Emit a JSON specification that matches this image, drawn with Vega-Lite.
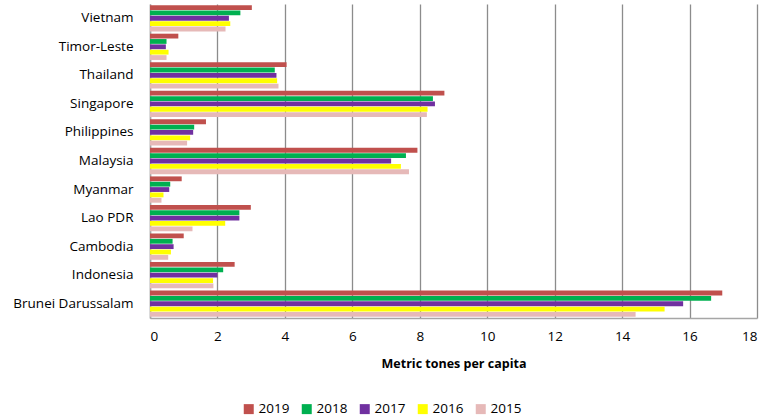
{
  "$schema": "https://vega.github.io/schema/vega-lite/v6.json",
  "autosize": "none",
  "padding": {"left": 150, "top": 4, "right": 6, "bottom": 102},
  "width": 607,
  "height": 314,
  "config": {
    "font": "Open Sans",
    "view": {"stroke": null},
    "axis": {"labelFont": "Open Sans", "titleFont": "Open Sans", "labelColor": "#000", "titleColor": "#000"}
  },
  "data": {
    "values": [
      {"country": "Vietnam", "year": "2019", "value": 3.02},
      {"country": "Vietnam", "year": "2018", "value": 2.68},
      {"country": "Vietnam", "year": "2017", "value": 2.34},
      {"country": "Vietnam", "year": "2016", "value": 2.38},
      {"country": "Vietnam", "year": "2015", "value": 2.24},
      {"country": "Timor-Leste", "year": "2019", "value": 0.84},
      {"country": "Timor-Leste", "year": "2018", "value": 0.49},
      {"country": "Timor-Leste", "year": "2017", "value": 0.47},
      {"country": "Timor-Leste", "year": "2016", "value": 0.55},
      {"country": "Timor-Leste", "year": "2015", "value": 0.49},
      {"country": "Thailand", "year": "2019", "value": 4.05},
      {"country": "Thailand", "year": "2018", "value": 3.70},
      {"country": "Thailand", "year": "2017", "value": 3.75},
      {"country": "Thailand", "year": "2016", "value": 3.77},
      {"country": "Thailand", "year": "2015", "value": 3.81},
      {"country": "Singapore", "year": "2019", "value": 8.73},
      {"country": "Singapore", "year": "2018", "value": 8.39},
      {"country": "Singapore", "year": "2017", "value": 8.45},
      {"country": "Singapore", "year": "2016", "value": 8.23},
      {"country": "Singapore", "year": "2015", "value": 8.21},
      {"country": "Philippines", "year": "2019", "value": 1.66},
      {"country": "Philippines", "year": "2018", "value": 1.31},
      {"country": "Philippines", "year": "2017", "value": 1.28},
      {"country": "Philippines", "year": "2016", "value": 1.19},
      {"country": "Philippines", "year": "2015", "value": 1.10},
      {"country": "Malaysia", "year": "2019", "value": 7.93},
      {"country": "Malaysia", "year": "2018", "value": 7.59},
      {"country": "Malaysia", "year": "2017", "value": 7.15},
      {"country": "Malaysia", "year": "2016", "value": 7.44},
      {"country": "Malaysia", "year": "2015", "value": 7.68},
      {"country": "Myanmar", "year": "2019", "value": 0.94},
      {"country": "Myanmar", "year": "2018", "value": 0.60},
      {"country": "Myanmar", "year": "2017", "value": 0.57},
      {"country": "Myanmar", "year": "2016", "value": 0.40},
      {"country": "Myanmar", "year": "2015", "value": 0.34},
      {"country": "Lao PDR", "year": "2019", "value": 2.99},
      {"country": "Lao PDR", "year": "2018", "value": 2.65},
      {"country": "Lao PDR", "year": "2017", "value": 2.65},
      {"country": "Lao PDR", "year": "2016", "value": 2.23},
      {"country": "Lao PDR", "year": "2015", "value": 1.26},
      {"country": "Cambodia", "year": "2019", "value": 1.00},
      {"country": "Cambodia", "year": "2018", "value": 0.67},
      {"country": "Cambodia", "year": "2017", "value": 0.70},
      {"country": "Cambodia", "year": "2016", "value": 0.62},
      {"country": "Cambodia", "year": "2015", "value": 0.54},
      {"country": "Indonesia", "year": "2019", "value": 2.51},
      {"country": "Indonesia", "year": "2018", "value": 2.17},
      {"country": "Indonesia", "year": "2017", "value": 2.00},
      {"country": "Indonesia", "year": "2016", "value": 1.87},
      {"country": "Indonesia", "year": "2015", "value": 1.88},
      {"country": "Brunei Darussalam", "year": "2019", "value": 16.97},
      {"country": "Brunei Darussalam", "year": "2018", "value": 16.64},
      {"country": "Brunei Darussalam", "year": "2017", "value": 15.81},
      {"country": "Brunei Darussalam", "year": "2016", "value": 15.26},
      {"country": "Brunei Darussalam", "year": "2015", "value": 14.40}
    ]
  },
  "mark": {"type": "bar"},
  "encoding": {
    "y": {
      "field": "country",
      "type": "nominal",
      "sort": ["Vietnam", "Timor-Leste", "Thailand", "Singapore", "Philippines", "Malaysia", "Myanmar", "Lao PDR", "Cambodia", "Indonesia", "Brunei Darussalam"],
      "scale": {"paddingInner": 0.08, "paddingOuter": 0.04},
      "axis": {"title": null, "ticks": false, "labelFontSize": 13.5, "labelPadding": 17, "domainColor": "#a6a6a6", "domainWidth": 1.5}
    },
    "yOffset": {
      "field": "year",
      "type": "nominal",
      "sort": ["2019", "2018", "2017", "2016", "2015"],
      "scale": {"paddingInner": 0.1}
    },
    "x": {
      "field": "value",
      "type": "quantitative",
      "scale": {"domain": [0, 18], "nice": false},
      "axis": {
        "title": "Metric tones per capita",
        "titleFontWeight": "bold",
        "titleFontSize": 12.5,
        "titlePadding": 15,
        "values": [0, 2, 4, 6, 8, 10, 12, 14, 16, 18],
        "labelFontSize": 13.5,
        "labelPadding": 11,
        "ticks": false,
        "grid": true,
        "gridColor": "#8c8c8c",
        "gridWidth": 1.3,
        "domainColor": "#a6a6a6",
        "domainWidth": 1.5
      }
    },
    "color": {
      "field": "year",
      "type": "nominal",
      "scale": {
        "domain": ["2019", "2018", "2017", "2016", "2015"],
        "range": ["#C0504D", "#00B050", "#7030A0", "#FFFF00", "#E6B9B8"]
      },
      "legend": {
        "title": null,
        "orient": "none",
        "direction": "horizontal",
        "legendX": 92,
        "legendY": 398,
        "symbolType": "square",
        "symbolSize": 100,
        "symbolStrokeWidth": 0,
        "labelFontSize": 13.5,
        "labelOffset": 3,
        "columnPadding": 10
      }
    }
  }
}
